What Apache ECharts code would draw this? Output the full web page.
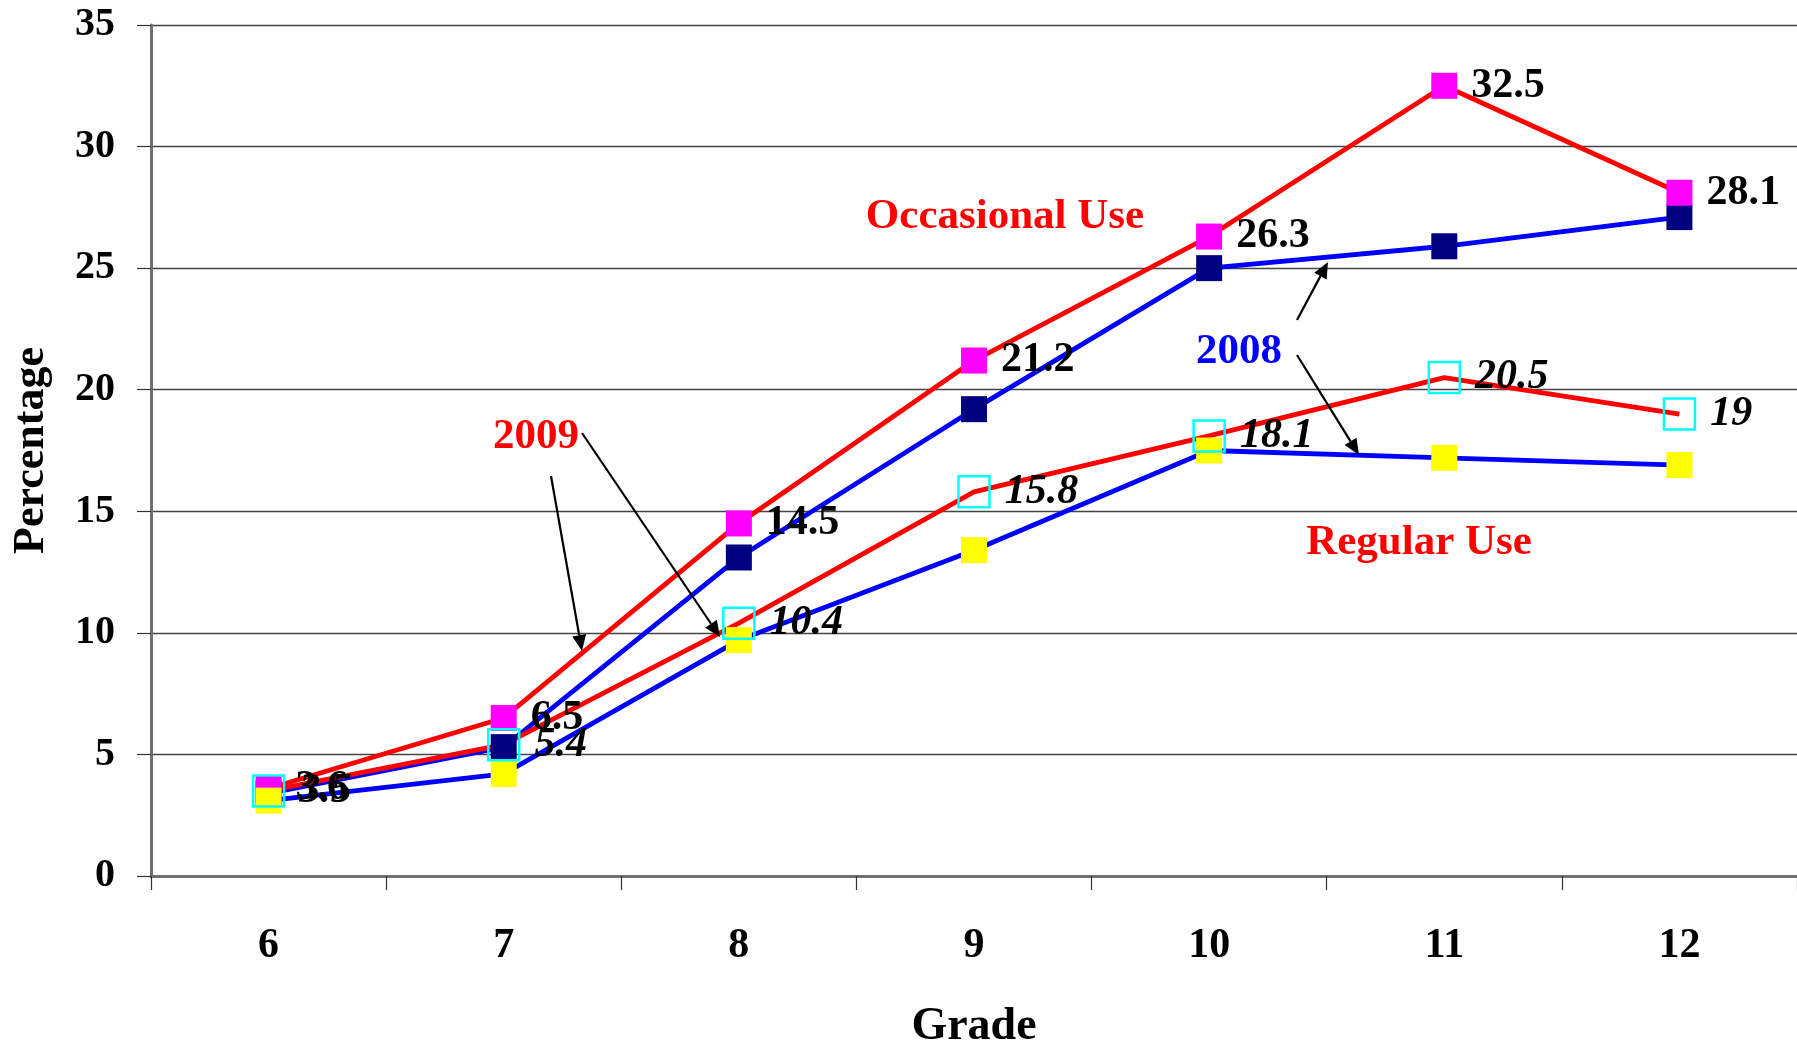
<!DOCTYPE html>
<html>
<head>
<meta charset="utf-8">
<script src="https://cdn.jsdelivr.net/npm/echarts@6/dist/echarts.min.js"></script>
<style>
html,body{margin:0;padding:0;background:#fff;}
#chart{width:1797px;height:1050px;}
</style>
</head>
<body>
<div id="chart"></div>
<script>
const grades = ['6', '7', '8', '9', '10', '11', '12'];
const occ2009 = [3.6, 6.5, 14.5, 21.2, 26.3, 32.5, 28.1];
const occ2008 = [3.4, 5.3, 13.1, 19.2, 25.0, 25.9, 27.1];
const reg2009 = [3.5, 5.4, 10.4, 15.8, 18.1, 20.5, 19];
const reg2008 = [3.1, 4.2, 9.7, 13.4, 17.5, 17.2, 16.9];
const yTicks = { min: 0, max: 35, interval: 5 };

const FONT = '"Liberation Serif", "Times New Roman", serif';

function lineSeries(name, data, color, z) {
  return {
    name: name, type: 'line', data: data, showSymbol: false, z: z,
    lineStyle: { color: color, width: 4.8 }, silent: true, animation: false
  };
}
function markerSeries(name, data, opts, z, label) {
  return {
    name: name, type: 'scatter', data: data, symbol: 'rect', z: z,
    symbolSize: opts.size, itemStyle: Object.assign({ opacity: 1 }, opts.style), animation: false,
    label: label, emphasis: { disabled: true }
  };
}

const boldLabel = {
  show: true, position: 'right', distance: 14,
  fontFamily: FONT, fontWeight: 'bold', fontSize: 42, color: '#000', opacity: 1
};
const italicLabel = {
  show: true, position: 'right', distance: 14,
  fontFamily: FONT, fontWeight: 'bold', fontStyle: 'italic', fontSize: 42, color: '#000', opacity: 1
};

const chart = echarts.init(document.getElementById('chart'), null, { renderer: 'canvas' });

// arrow helper for annotation graphics
function arrow(x1, y1, x2, y2) {
  const ang = Math.atan2(y2 - y1, x2 - x1);
  const L = 16, W = 7;
  const bx = x2 - L * Math.cos(ang), by = y2 - L * Math.sin(ang);
  const px = -Math.sin(ang) * W, py = Math.cos(ang) * W;
  return [
    { type: 'line', shape: { x1: x1, y1: y1, x2: bx, y2: by }, style: { stroke: '#000', lineWidth: 2.2 }, z: 100 },
    { type: 'polygon', shape: { points: [[x2, y2], [bx + px, by + py], [bx - px, by - py]] }, style: { fill: '#000' }, z: 100 }
  ];
}
function note(text, x, y, color) {
  return {
    type: 'text', x: x, y: y, z: 100,
    style: { text: text, fill: color, font: 'bold 43px ' + FONT, align: 'center', verticalAlign: 'middle' }
  };
}

chart.setOption({
  animation: false,
  backgroundColor: '#fff',
  grid: { left: 151, right: 0, top: 25, bottom: 174, containLabel: false, outerBoundsMode: 'none' },
  xAxis: {
    type: 'category', data: grades, boundaryGap: true,
    name: 'Grade', nameLocation: 'middle', nameGap: 128,
    nameTextStyle: { fontFamily: FONT, fontWeight: 'bold', fontSize: 46, color: '#000' },
    axisLine: { lineStyle: { color: '#707070', width: 3 } },
    axisTick: { show: true, length: 14, inside: false, lineStyle: { color: '#333', width: 1.2 }, alignWithLabel: false },
    axisLabel: { margin: 49, fontFamily: FONT, fontWeight: 'bold', fontSize: 42, color: '#000' },
    splitLine: { show: false }
  },
  yAxis: {
    type: 'value', min: yTicks.min, max: yTicks.max, interval: yTicks.interval,
    name: 'Percentage', nameLocation: 'middle', nameGap: 97, nameRotate: 90,
    nameTextStyle: { fontFamily: FONT, fontWeight: 'bold', fontSize: 44, color: '#000' },
    axisLine: { show: true, lineStyle: { color: '#707070', width: 3 } },
    axisTick: { show: true, length: 14, lineStyle: { color: '#333', width: 1.2 } },
    axisLabel: { margin: 36, fontFamily: FONT, fontWeight: 'bold', fontSize: 40, color: '#000' },
    splitLine: { show: true, lineStyle: { color: '#444', width: 1.3 } }
  },
  series: [
    lineSeries('Occasional 2008 line', occ2008, '#0000FF', 2),
    lineSeries('Regular 2008 line', reg2008, '#0000FF', 2),
    lineSeries('Occasional 2009 line', occ2009, '#FF0000', 3),
    lineSeries('Regular 2009 line', reg2009, '#FF0000', 3),
    markerSeries('Occasional 2008', occ2008, { size: 26, style: { color: '#000080' } }, 4, { show: false }),
    markerSeries('Occasional 2009', occ2009, { size: 26, style: { color: '#FF00FF' } }, 5, boldLabel),
    markerSeries('Regular 2008', reg2008, { size: 26, style: { color: '#FFFF00' } }, 6, { show: false }),
    markerSeries('Regular 2009', reg2009, { size: 31, style: { color: 'rgba(0,0,0,0)', borderColor: '#00FFFF', borderWidth: 2.5 } }, 7, italicLabel)
  ],
  graphic: [
    note('Occasional Use', 1005, 217, '#FF0000'),
    note('Regular Use', 1419, 543, '#FF0000'),
    note('2009', 536, 437, '#FF0000'),
    note('2008', 1239, 352, '#0000FF')
  ].concat(
    arrow(551, 476, 582, 651),
    arrow(582, 433, 720, 637),
    arrow(1297, 320, 1328, 262),
    arrow(1297, 355, 1359, 455)
  )
});
</script>
</body>
</html>
